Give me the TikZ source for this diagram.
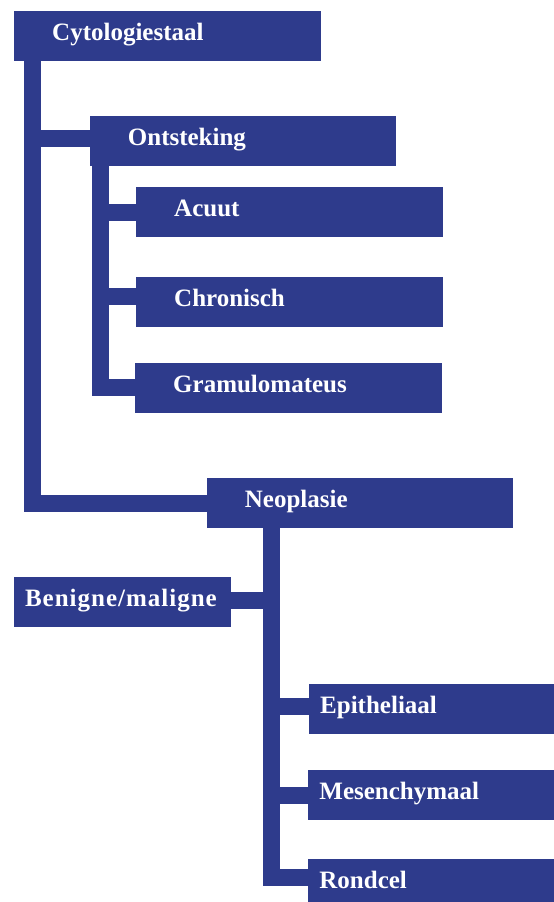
\documentclass[tikz,border=0pt]{standalone}
\usepackage{fontspec}
\setmainfont{Liberation Serif}
\usetikzlibrary{positioning}
\definecolor{treeblue}{RGB}{46,59,140}

\begin{document}
\begin{tikzpicture}[
			x=1pt, y=-1pt,
			box/.style={rectangle, fill=treeblue, text=white, font=\fontsize{25}{30}\selectfont\bfseries, anchor=north west, minimum height=50pt, text height=17pt, text depth=8pt, inner xsep=0pt, inner ysep=0pt, align=left},
			wide/.style={box, text width=306.5pt, execute at begin node={\hspace*{38pt}}},
			narrow/.style={box, text width=#1, execute at begin node={\hspace*{11.5pt}}},
			branch/.style={draw=treeblue, line width=17pt}
		]
		\path[use as bounding box, clip] (0,0) rectangle (554,902);

		% Boxes of the tree
		\node (cyto) [wide] at (14,11) {Cytologiestaal};
		\node (ont) [wide] at (89.7,116) {Ontsteking};
		\node (acuut) [wide] at (136,187) {Acuut};
		\node (chron) [wide] at (136,277) {Chronisch};
		\node (gram) [wide] at (135,363) {Gramulomateus};
		\node (neo) [wide] at (206.7,478) {Neoplasie};
		\node (beni) [narrow=217.7pt] at (13.3,577) {\addfontfeature{LetterSpace=4}Benigne/maligne};
		\node (epi) [narrow=246pt] at (308.5,683.3) {Epitheliaal};
		\node (mes) [narrow=246.5pt] at (307.7,770) {Mesenchymaal};
		\node (rond) [narrow=246.5pt] at (307.7,858.3) {Rondcel};

		% Trunks
		\coordinate (trunkA) at ([xshift=18.2pt]cyto.south west);
		\coordinate (trunkB) at ([xshift=11.1pt]ont.south west);
		\coordinate (trunkC) at ([xshift=65.1pt]neo.south west);

		% Branches
		\draw [branch] (trunkA) |- (neo.west);
		\draw [branch] ([yshift=2.3pt]ont.west -| trunkA) -- ([yshift=2.3pt]ont.west);
		\draw [branch] (trunkB) |- ([yshift=1pt]gram.west);
		\draw [branch] (acuut.west -| trunkB) -- (acuut.west);
		\draw [branch] ([yshift=6pt]chron.west -| trunkB) -- ([yshift=6pt]chron.west);
		\draw [branch] (trunkC) |- ([yshift=6pt]rond.west);
		\draw [branch] ([yshift=1.7pt]beni.east) -- ([yshift=1.7pt]beni.east -| trunkC);
		\draw [branch] ([yshift=2pt]epi.west -| trunkC) -- ([yshift=2pt]epi.west);
		\draw [branch] (mes.west -| trunkC) -- (mes.west);
	\end{tikzpicture}
\end{document}
